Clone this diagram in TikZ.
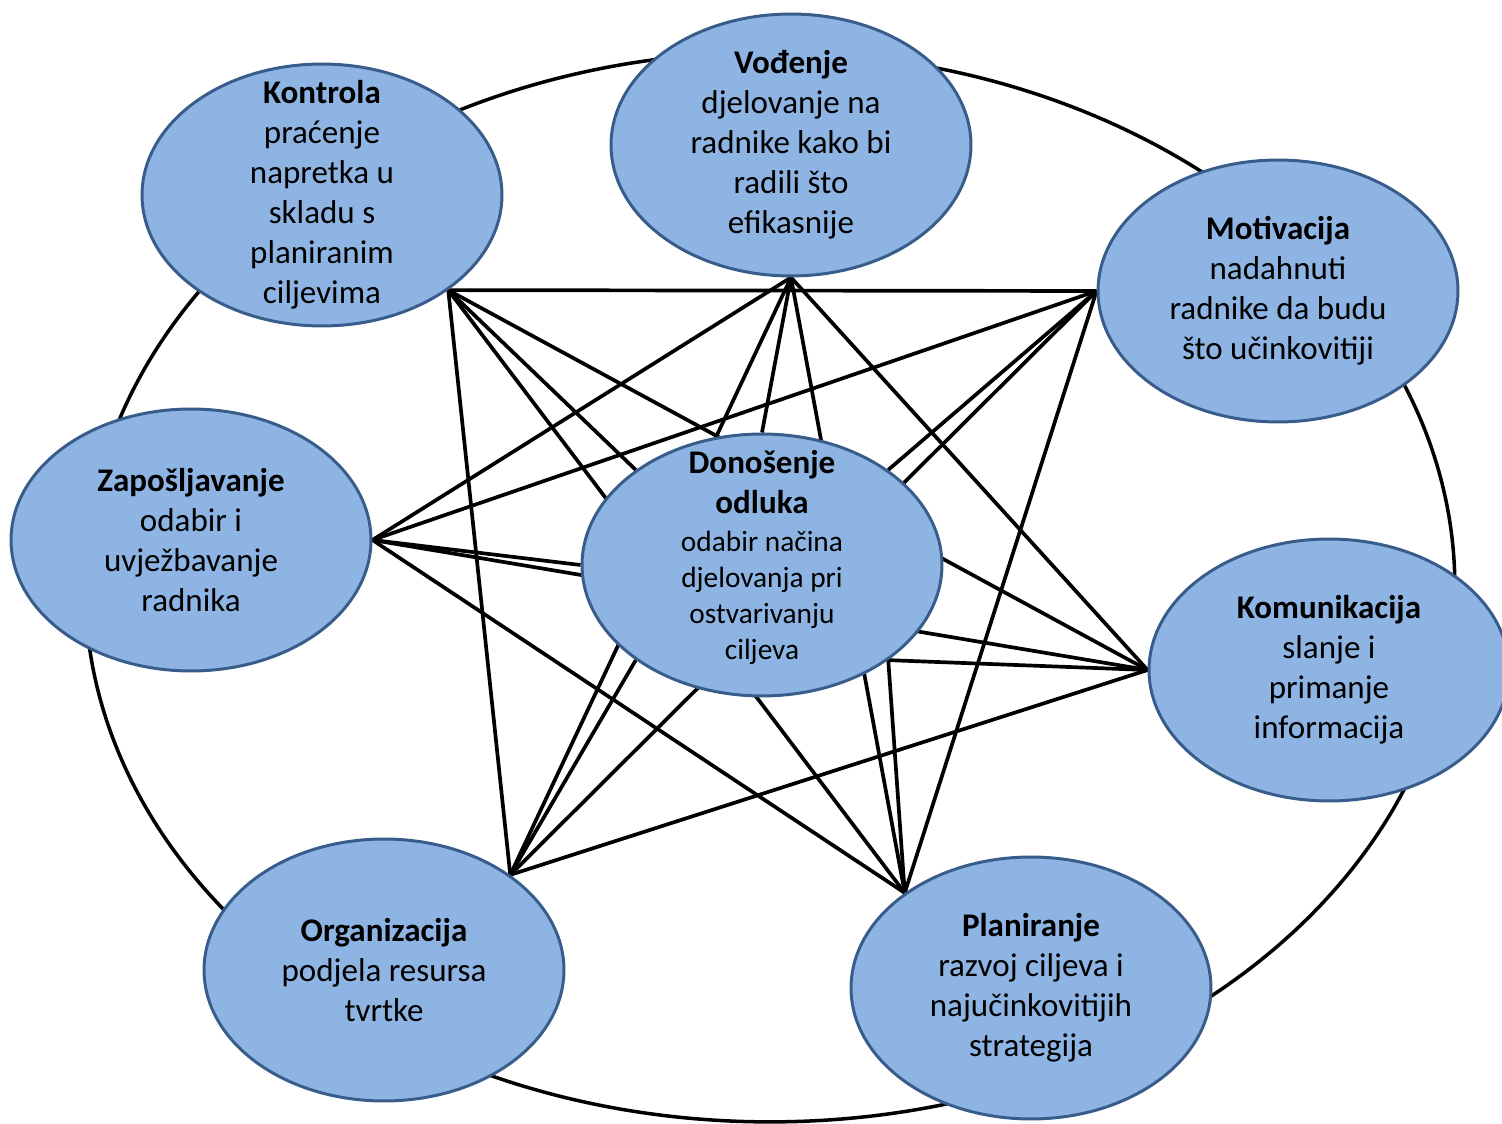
\documentclass[tikz,border=0pt]{standalone}
\usepackage{fontspec}
\setmainfont{Carlito}
\usetikzlibrary{shapes}
\pgfdeclarelayer{background}
\pgfsetlayers{background,main}
\definecolor{bubblefill}{RGB}{142,180,227}
\definecolor{bubbleline}{RGB}{56,93,138}
\tikzset{bubble/.style={ellipse,draw=bubbleline,fill=bubblefill,line width=1.7pt,
  minimum width=7.2cm,minimum height=5.24cm,inner sep=-3cm,align=center,
  font=\fontsize{18.8}{22.8}\selectfont}}
\newcommand{\odlfont}{\fontsize{16.7}{20.5}\selectfont}

\begin{document}
\begin{tikzpicture}[x=0.02cm,y=-0.02cm] %the management functions
    \useasboundingbox (0,0) rectangle (1502,1124);
    %the ellipses
    \node[bubble] (kon) at (322,195) {\textbf{Kontrola}\\praćenje\\napretka u\\skladu s\\planiranim\\ciljevima};
    \node[bubble] (vod) at (791,145) {\textbf{Vođenje}\\djelovanje na\\radnike kako bi\\radili što\\efikasnije};
    \node[bubble] (mot) at (1278,291) {\textbf{Motivacija}\\nadahnuti\\radnike da budu\\što učinkovitiji};
    \node[bubble] (zap) at (191,540) {\textbf{Zapošljavanje}\\odabir i\\uvježbavanje\\radnika};
    \node[bubble] (odl) at (762,565) {\textbf{Donošenje}\\\textbf{odluka}\\[-1pt]{\odlfont odabir načina}\\[-2.3pt]{\odlfont djelovanja pri}\\[-2.3pt]{\odlfont ostvarivanju}\\[-2.3pt]{\odlfont ciljeva}\rule[-0.4cm]{0pt}{0pt}};
    \node[bubble] (kom) at (1329,670) {\textbf{Komunikacija}\\slanje i\\primanje\\informacija};
    \node[bubble] (org) at (384,970) {\textbf{Organizacija}\\podjela resursa\\tvrtke};
    \node[bubble] (plan) at (1031,988) {\textbf{Planiranje}\\razvoj ciljeva i\\najučinkovitijih\\strategija};
\begin{pgfonlayer}{background}
%the outer ring
    \draw[line width=2pt] (770,587) ellipse [x radius=13.7cm, y radius=10.7cm];
%the links
    \begin{scope}[every path/.style={line width=2.1pt}]
       \draw (kon.-37) -- (mot.west);
       \draw (kon.-37) -- (kom.west);
       \draw (kon.-37) -- (plan.143);
       \draw (kon.-37) -- (org.37);
       \draw (vod.south) -- (zap.east);
       \draw (vod.south) -- (org.37);
       \draw (vod.south) -- (plan.143);
       \draw (vod.south) -- (kom.west);
       \draw (mot.west) -- (zap.east);
       \draw (mot.west) -- (org.37);
       \draw (mot.west) -- (plan.143);
       \draw (kom.west) -- (org.37);
       \draw (kom.west) -- (zap.east);
       \draw (plan.143) -- (zap.east);
    \end{scope}
%links to the decision
    \begin{scope}[every path/.style={line width=2.1pt}]
       \draw (odl.north) -- (vod.south);
       \draw (odl.143) -- (kon.-37);
       \draw (odl.37) -- (mot.west);
       \draw (odl.west) -- (zap.east);
       \draw (odl.217) -- (org.37);
       \draw (odl.-37) -- (kom.west);
       \draw (odl.-37) -- (plan.143);
    \end{scope}
\end{pgfonlayer}
\end{tikzpicture}
\end{document}
